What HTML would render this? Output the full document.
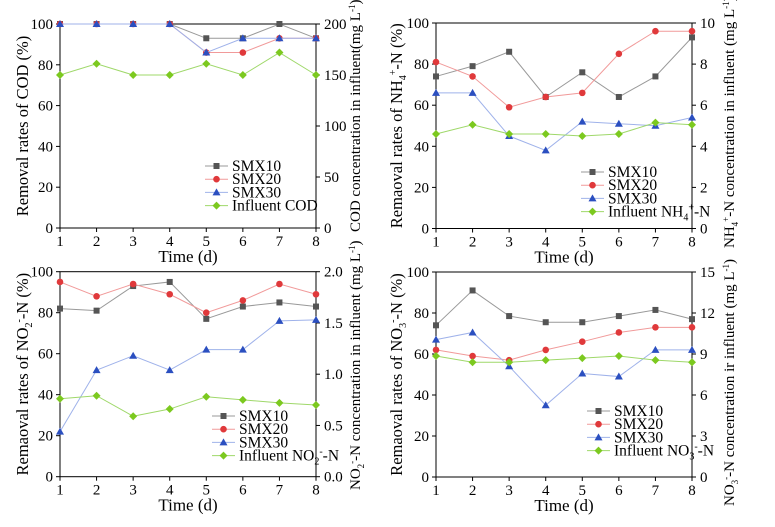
<!DOCTYPE html>
<html><head><meta charset="utf-8">
<style>
html,body{margin:0;padding:0;background:#fff;}
svg, svg text{font-family:"Liberation Serif","Times New Roman",serif;}
</style></head>
<body>
<svg id="chart" width="775" height="522" viewBox="0 0 775 522" xmlns="http://www.w3.org/2000/svg" font-family="Liberation Serif, serif"></svg>
<script>
const days = [1,2,3,4,5,6,7,8];
const xTicks = ["1","2","3","4","5","6","7","8"];
const leftTicks = [0,20,40,60,80,100];

const codSmx10 = [100,100,100,100,93,93,100,93];
const codSmx20 = [100,100,100,100,86,86,93,93];
const codSmx30 = [100,100,100,100,86,93,93,93];
const codInfluent = [150,161,150,150,161,150,172,150];
const codRightTicks = [0,50,100,150,200];

const nh4Smx10 = [74,79,86,64,76,64,74,93];
const nh4Smx20 = [81,74,59,64,66,85,96,96];
const nh4Smx30 = [66,66,45,38,52,51,50,54];
const nh4Influent = [4.6,5.05,4.6,4.6,4.5,4.6,5.15,5.05];
const nh4RightTicks = [0,2,4,6,8,10];

const no2Smx10 = [82,81,93,95,77,83,85,83];
const no2Smx20 = [95,88,94,89,80,86,94,89];
const no2Smx30 = [22,52,59,52,62,62,76,76.5];
const no2Influent = [0.76,0.79,0.59,0.66,0.78,0.75,0.72,0.70];
const no2RightTicks = ["0.0","0.5","1.0","1.5","2.0"];

const no3Smx10 = [74,91,78.5,75.5,75.5,78.5,81.5,77];
const no3Smx20 = [62,59,57,62,66,70.5,73,73];
const no3Smx30 = [67,70.5,54,35,50.5,49,62,62];
const no3Influent = [8.85,8.4,8.4,8.55,8.7,8.85,8.55,8.4];
const no3RightTicks = [0,3,6,9,12,15];

const NS = "http://www.w3.org/2000/svg";
const svg = document.getElementById('chart');
const FF = '"Liberation Serif", serif';
function mk(tag, attrs, parent){
  const e = document.createElementNS(NS, tag);
  for (const k in attrs) e.setAttribute(k, attrs[k]);
  if (tag==='text') e.setAttribute('font-family', FF);
  (parent||svg).appendChild(e);
  return e;
}
const colors = {k:'#555', r:'#e0393b', b:'#2b4fc0', g:'#7cc91f'};
const lineColors = {k:'#999', r:'#f19a9a', b:'#9fb2ea', g:'#9fd86a'};

function marker(g, type, x, y, c){
  let m;
  if (type==='s') m = mk('rect',{x:x-3,y:y-3,width:6,height:6,fill:c},g);
  else if (type==='c') m = mk('circle',{cx:x,cy:y,r:3.3,fill:c},g);
  else if (type==='t') m = mk('polygon',{points:`${x},${y-4} ${x-4},${y+3} ${x+4},${y+3}`,fill:c},g);
  else m = mk('polygon',{points:`${x},${y-4} ${x+4},${y} ${x},${y+4} ${x-4},${y}`,fill:c},g);
  
  
}

function panel(p){
  const g = mk('g',{});
  
  
  const {x0,x1,y0,y1} = p;
  const xs = d => x0 + (d-1)/(7)*(x1-x0);
  const yl = v => y1 - v/100*(y1-y0);
  const rmax = p.rmax;
  const yr = v => y1 - v/rmax*(y1-y0);
  const frame = mk('rect',{x:x0,y:y0,width:x1-x0,height:y1-y0,fill:'none',stroke:'#000','stroke-width':1},g);
  
  
  days.forEach((d,i)=>{
    const x = xs(d);
    mk('line',{x1:x,x2:x,y1:y1,y2:y1+4,stroke:'#000'},g);
    const t = mk('text',{x:x,y:y1+18,'font-size':15,'text-anchor':'middle'},g);
    t.textContent = xTicks[i];
    
    
  });
  leftTicks.forEach(v=>{
    const y = yl(v);
    mk('line',{x1:x0-4,x2:x0,y1:y,y2:y,stroke:'#000'},g);
    const t = mk('text',{x:x0-7,y:y+5,'font-size':15,'text-anchor':'end'},g);
    t.textContent = v;
    
    
  });
  p.rticks.forEach(v=>{
    const y = yr(parseFloat(v));
    mk('line',{x1:x1,x2:x1+4,y1:y,y2:y,stroke:'#000'},g);
    const t = mk('text',{x:x1+8,y:y+5,'font-size':15,'text-anchor':'start'},g);
    t.textContent = v;
    
    
  });
  const xt = mk('text',{x:(x0+x1)/2,y:y1+34,'font-size':17,'text-anchor':'middle'},g);
  xt.textContent = 'Time (d)';
  
  
  const ly = (y0+y1)/2;
  const lt = mk('text',{x:p.lx,y:ly,'font-size':16.5,'text-anchor':'middle',transform:`rotate(-90 ${p.lx} ${ly})`},g);
  lt.innerHTML = p.leftLabel;
  
  
  const rt = mk('text',{x:p.rx,y:p.ry,'font-size':15,'text-anchor':'start',transform:`rotate(-90 ${p.rx} ${p.ry})`},g);
  rt.innerHTML = p.rightLabel;
  
  

  const series = [
    {vals:p.s10,c:'k',m:'s',f:yl,n:'series-smx10'},
    {vals:p.s20,c:'r',m:'c',f:yl,n:'series-smx20'},
    {vals:p.s30,c:'b',m:'t',f:yl,n:'series-smx30'},
    {vals:p.inf,c:'g',m:'d',f:yr,n:'series-influent'}
  ];
  series.forEach(s=>{
    const sg = mk('g',{},g);
    
    
    const pts = s.vals.map((v,i)=>`${xs(days[i])},${s.f(v)}`).join(' ');
    mk('polyline',{points:pts,fill:'none',stroke:lineColors[s.c],'stroke-width':1},sg);
    s.vals.forEach((v,i)=>marker(sg,s.m,xs(days[i]),s.f(v),colors[s.c]));
  });
  const lg = mk('g',{},g);
  
  
  const names = ['SMX10','SMX20','SMX30',p.infName];
  series.forEach((s,i)=>{
    const y = p.legY + i*13.2;
    const eg = mk('g',{},lg);
    
    
    mk('line',{x1:p.legX,x2:p.legX+23,y1:y,y2:y,stroke:lineColors[s.c]},eg);
    marker(eg,s.m,p.legX+11.5,y,colors[s.c]);
    const t = mk('text',{x:p.legX+27,y:y+5,'font-size':15.5},eg);
    t.innerHTML = names[i];
  });
}

panel({name:'cod-panel',x0:60,x1:316,y0:24,y1:228,rmax:200,rticks:codRightTicks,
  s10:codSmx10,s20:codSmx20,s30:codSmx30,inf:codInfluent,
  lx:28,leftLabel:'Removal rates of COD (%)',
  rx:360,ry:232,rightLabel:'COD concentration in influent(mg L<tspan font-size="9" dy="-5">-1</tspan><tspan dy="5">)</tspan>',
  legX:205,legY:166,infName:'Influent COD'});
panel({name:'nh4-panel',x0:436,x1:692,y0:23,y1:228.5,rmax:10,rticks:nh4RightTicks,
  s10:nh4Smx10,s20:nh4Smx20,s30:nh4Smx30,inf:nh4Influent,
  lx:402,leftLabel:'Remaoval rates of NH<tspan font-size="10" dy="4">4</tspan><tspan font-size="10" dy="-10">+</tspan><tspan dy="6">-N (%)</tspan>',
  rx:734,ry:248,rightLabel:'NH<tspan font-size="9" dy="4">4</tspan><tspan font-size="9" dy="-9">+</tspan><tspan dy="5">-N concentration in influent (mg L</tspan><tspan font-size="9" dy="-5">-1</tspan><tspan dy="5">)</tspan>',
  legX:581,legY:172,infName:'Influent NH<tspan font-size="10" dy="4">4</tspan><tspan font-size="10" dy="-10">+</tspan><tspan dy="6">-N</tspan>'});
panel({name:'no2-panel',x0:60,x1:316,y0:271.7,y1:476.7,rmax:2,rticks:no2RightTicks,
  s10:no2Smx10,s20:no2Smx20,s30:no2Smx30,inf:no2Influent,
  lx:28,leftLabel:'Remaoval rates of NO<tspan font-size="10" dy="4">2</tspan><tspan font-size="10" dy="-10">-</tspan><tspan dy="6">-N (%)</tspan>',
  rx:360,ry:490,rightLabel:'NO<tspan font-size="9" dy="4">2</tspan><tspan font-size="9" dy="-9">-</tspan><tspan dy="5">-N concentration in influent (mg L</tspan><tspan font-size="9" dy="-5">-1</tspan><tspan dy="5">)</tspan>',
  legX:212,legY:416,infName:'Influent NO<tspan font-size="10" dy="4">2</tspan><tspan font-size="10" dy="-10">-</tspan><tspan dy="6">-N</tspan>'});
panel({name:'no3-panel',x0:436,x1:692,y0:272,y1:477,rmax:15,rticks:no3RightTicks,
  s10:no3Smx10,s20:no3Smx20,s30:no3Smx30,inf:no3Influent,
  lx:402,leftLabel:'Remaoval rates of NO<tspan font-size="10" dy="4">3</tspan><tspan font-size="10" dy="-10">-</tspan><tspan dy="6">-N (%)</tspan>',
  rx:734,ry:506,rightLabel:'NO<tspan font-size="9" dy="4">3</tspan><tspan font-size="9" dy="-9">-</tspan><tspan dy="5">-N concentration ir influent (mg L</tspan><tspan font-size="9" dy="-5">-1</tspan><tspan dy="5">)</tspan>',
  legX:587,legY:411,infName:'Influent NO<tspan font-size="10" dy="4">3</tspan><tspan font-size="10" dy="-10">-</tspan><tspan dy="6">-N</tspan>'});
</script>
</body></html>
